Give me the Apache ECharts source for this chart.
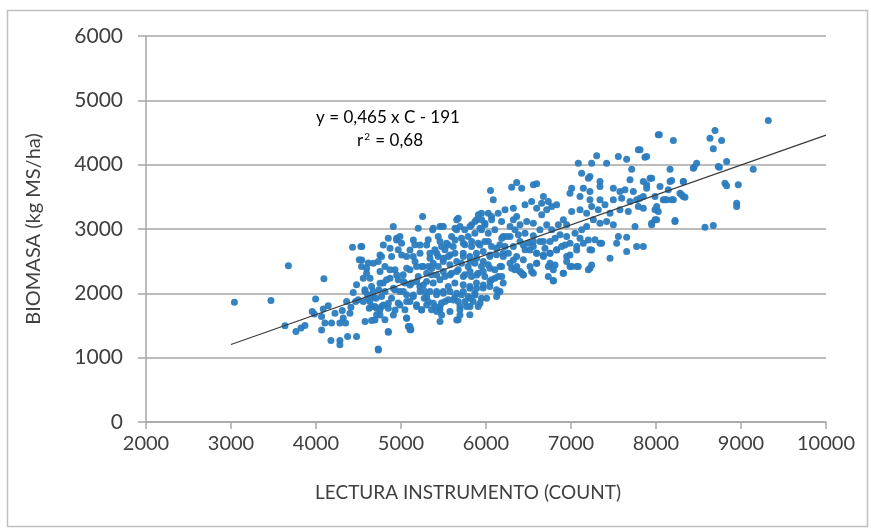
<!DOCTYPE html>
<html>
<head>
<meta charset="utf-8">
<style>
  html, body { margin: 0; padding: 0; background: #ffffff; }
  #chart { width: 871px; height: 529px; }
</style>
<script src="https://cdn.jsdelivr.net/npm/echarts@6/dist/echarts.min.js"></script>
</head>
<body>
<div id="chart"></div>
<script>
// Axis ticks
const xTicks = [2000, 3000, 4000, 5000, 6000, 7000, 8000, 9000, 10000];
const yTicks = [0, 1000, 2000, 3000, 4000, 5000, 6000];

// Fitted line: y = 0,465 x C - 191 (drawn over C = 3000 .. 10000)
const slope = 0.465;
const intercept = -191;
const fitRange = [3000, 10000];
const r2 = 0.68;

// Observations: [instrument reading (count), biomass (kg MS/ha)]
const obsLow = [
  [3040,1860],[3470,1890],[3675,2430],[3635,1495],
  [3764,1407],[3823,1460],[3870,1500],[3956,1718],[3995,1910],[3980,1680],
  [4066,1640],[4085,1755],[4093,2226],[4105,1537],[4066,1430],
  [4176,1268],[4281,1268],[4281,1200],[4183,1537],[4309,1733],[4320,1615],
  [4281,1537],[4348,1537],[4372,1330],[4411,1785],[4466,1873],[4497,1900],
  [4430,2718],[4477,1330],[4360,1873],[4438,2013],[4477,2133],[4509,2521],
  [4399,1692],[4223,1692],[4144,1806]
];

const obsMidA = [
  [4528,2728],[4536,2417],[4556,2236],[4595,2314],[4615,2470],[4575,2055],
  [4607,1977],[4634,1873],[4654,2107],[4673,1951],[4693,1796],[4713,1666],
  [4654,1578],[4732,1133],[4752,1744],[4771,1951],[4740,2055],[4791,2159],
  [4830,2210],[4850,1407],[4811,1589],[4850,2858],[4870,2366],[4771,2573],
  [4732,2495],[4811,2417],[4889,2573],[4909,3039],[4771,1796],[4705,1925],
  [4673,2029],[4850,1770],[4889,1925],[4626,1770],
  [4948,2858],[4967,2676],[5007,2780],[5066,2573],[4929,2366],[4967,2210],
  [5026,2288],[5046,2159],[4987,2029],[5066,1977],[5105,1873],[5046,1744],
  [5066,1615],[5116,1433],[5105,1485],[5163,2754],[5144,2573],[5183,2417],
  [5203,2262],[5222,2107],[5144,1951],[5183,1822],[5242,1744],[5254,3194],
  [5203,3013],[5105,2366],[5261,2417],[5281,2029],[5273,1925],[4967,1848],
  [5124,2159],[4929,2055],
  [4538,2727],[4538,2520],[4596,2390],[4636,2235],[4577,2027],[4616,1924],
  [4557,1872],[4655,1794],[4714,1768],[4753,1665],[4694,1587],[4577,1561],
  [4792,1820],[4851,1395],[4734,1121],[5106,1432],[5086,1483],[5067,1613],
  [4910,1665],[4930,1742],[4851,1846],[4988,1820],[5067,1872],[5184,1794],
  [5243,1742],[5302,1820],[4753,2157],[4871,2235],[4949,2286],[5028,2183],
  [5106,2131],[5184,2183],[5263,2131],[4753,2338],[4675,2468],[4753,2597],
  [4871,2701],[4949,2830],[4792,2753],[5008,2597],[5106,2675],[5165,2494],
  [5067,2390],[5243,2416],[5224,2753],[5224,2623],[4988,2882],[5145,2830],
  [5302,2312],[5302,2753],[5302,1950],[5224,2027],[5145,1976],[5028,2027],
  [4910,2079],[4812,2027]
];

const obsMidB = [
  [5379,3013],[5477,3039],[5438,2884],[5320,2832],[5340,2625],[5399,2676],
  [5477,2728],[5536,2780],[5595,2884],[5654,2987],[5673,3168],[5320,2417],
  [5359,2288],[5438,2417],[5497,2495],[5556,2573],[5634,2625],[5301,2184],
  [5379,2159],[5458,2210],[5516,2262],[5595,2314],[5673,2366],[5340,2029],
  [5418,1977],[5497,2029],[5556,2107],[5634,2159],[5320,1873],[5399,1796],
  [5477,1848],[5556,1900],[5634,1951],[5359,1744],[5458,1744],[5673,1873],
  [5516,2676],[5575,2443],[5614,2728],[5438,2573],[5379,2469],
  [5373,2987],[5459,3039],[5498,3039],[5655,3142],[5694,3039],[5635,3013],
  [5380,1846],[5459,1794],[5518,1872],[5616,1898],[5694,1794],[5420,2027],
  [5498,2001],[5576,2027],[5655,2001],[5361,2390],[5420,2286],[5498,2338],
  [5576,2286],[5655,2338],[5341,2545],[5420,2623],[5498,2545],[5576,2597],
  [5655,2494],[5459,2804],[5557,2753],[5635,2830],[5478,1665],[5420,1717],
  [5576,1717],[5655,1587],[5459,1561],[5694,1665],
  [5751,2987],[5712,2858],[5790,2884],[5869,2935],[5947,2987],[6026,2935],
  [6104,2987],[6202,2884],[5751,2754],[5830,2728],[5908,2780],[5986,2806],
  [6065,2728],[6163,2754],[5732,2625],[5810,2573],[5888,2625],[5967,2650],
  [6045,2573],[6124,2599],[6202,2625],[5712,2469],[5790,2417],[5869,2469],
  [5947,2417],[6026,2443],[6104,2366],[6183,2417],[5751,2288],[5830,2262],
  [5908,2314],[5986,2262],[6065,2210],[6143,2262],[6202,2159],[5732,2133],
  [5810,2107],[5888,2159],[5967,2081],[6045,2107],[6124,2055],[5712,1977],
  [5790,1951],[5869,2003],[5947,1925],[6143,2013],[5849,1873],[5693,1744],
  [5771,1796],[5908,1796],[5810,1666],[5673,1589],
  [6053,3598],[6085,3453],[5947,3246],[5889,3142],[5830,3065],[5986,3091],
  [6065,3194],[6143,3246],[6183,3117],[5870,3117],[5910,3220],[5949,3142],
  [5988,3065],[5929,3013],[6027,3246],[6066,3142],[5812,3039],
  [5753,1872],[5812,1924],[5870,1976],[5733,2027],[5812,2079],[5890,2079],
  [5968,2131],[6047,2183],[6106,2235],[5733,2260],[5812,2338],[5890,2286],
  [5968,2338],[6047,2390],[5733,2571],[5812,2494],[5890,2545],[5968,2494],
  [6047,2597],[6125,2701],[5733,2779],[5831,2804],[5929,2753],[6027,2804],
  [5812,1794],[5929,1846],[6007,1924],[6125,1950]
];

const obsHigh = [
  [6165,2029],[6185,2262],[6165,2417],[6204,2573],[6224,2728],[6243,2884],
  [6283,3039],[6322,3142],[6224,3298],[6322,3324],[6361,3194],[6302,3650],
  [6361,3723],[6420,3635],[6557,3687],[6596,3702],[6459,3376],[6537,3428],
  [6596,3324],[6655,3402],[6675,3505],[6733,3428],[6773,3350],[6831,3376],
  [6714,3298],[6655,3220],[6557,3091],[6479,3117],[6400,3065],[6341,2987],
  [6283,2884],[6381,2910],[6459,2935],[6557,2894],[6635,2987],[6714,3065],
  [6773,2987],[6851,3065],[6910,3142],[6949,3065],[6322,2728],[6400,2806],
  [6459,2676],[6361,2573],[6439,2521],[6498,2780],[6557,2728],[6635,2806],
  [6694,2702],[6753,2806],[6812,2858],[6871,2910],[6596,2625],[6675,2573],
  [6753,2625],[6831,2676],[6890,2728],[6283,2469],[6341,2366],[6420,2314],
  [6518,2417],[6596,2469],[6753,2469],[6792,2366],[6733,2262],[6439,2288],
  [6557,2314],[6792,2200],[6910,2314],[6988,2417],[7067,2417],[7223,2391],
  [7204,2366],[6949,2573],[7067,2728],[7145,2780],[6988,2780],[7223,2676],
  [7282,2832],[7361,2780],[7459,2547],[6949,2884],[7047,2935],[7125,2987],
  [7184,3039],[7263,3142],[7341,3091],[7419,3117],[7498,3065],[7557,2884],
  [7655,2650],[7772,2728],[7851,2728],[7753,3039],[7949,3065],[8008,3142],
  [8223,3117],[7008,3272],[7106,3298],[7184,3246],[7243,3350],[7321,3298],
  [7400,3376],[7341,3453],[7223,3453],[7106,3505],[6988,3557],[7008,3635],
  [7145,3635],[7223,3583],[7341,3738],[7341,3661],[7498,3635],[7576,3583],
  [7635,3609],[7694,3428],[7772,3453],[7792,3350],[7674,3272],[7498,3453],
  [7596,3479],[7851,3505],[7890,3635],[7949,3790],[7988,3505],[8008,3350],
  [7988,3298],[8086,3453],[8125,3453],[8204,3453],[8282,3557],[8321,3505],
  [8165,3738],[8145,3609],[8321,3738],[8165,3930],[8047,3661],[7223,3816],
  [7086,4023],[7125,3868],[7204,3790],[7243,4023],[7302,4137],[7419,4023],
  [7557,4127],[7655,4085],[7714,3930],[7792,4230],[7870,4117],[8027,4464],
  [8204,4375],[8439,3946],[8478,4023],[8635,4412],[8694,4531],[8772,4375],
  [8674,4246],[8733,3971],[8831,4049],[8811,3712],[8831,3671],[8968,3687],
  [8949,3402],[8949,3350],[9144,3930],[9321,4686],[8576,3029],[8674,3054],
  [7949,3091],[7537,2780],[7655,2873],[7576,3298],[7459,3246],[7733,3583],
  [7851,3738],[7694,3764],
  [6263,2623],[6322,2520],[6361,2416],[6302,2390],[6400,2338],[6439,2286],
  [6537,2338],[6439,2753],[6518,2675],[6596,2623],[6675,2597],[6753,2623],
  [6831,2675],[6733,2416],[6812,2442],[6792,2193],[6910,2312],[7008,2416],
  [7086,2416],[7243,2442],[7067,2675],[7243,2675],[7106,2856],[7204,2830],
  [7341,2779],[6185,2856],[6557,2804],[6675,2804],[6929,2753],[6988,2597],
  [6949,2494],[6596,2468],
  [7930,3790],[7890,3687],[8184,3754],[8322,3738],[7812,3479],[8106,3453],
  [8184,3453],[8302,3531],[8341,3495],[8027,3272],[7851,3324],[7988,3142],
  [8224,3132],[8447,3961],[8745,3961],[8039,4464],[7812,4230],[7890,4127]
];

const observations = obsLow.concat(obsMidA, obsMidB, obsHigh);
const fitLine = fitRange.map(c => [c, slope * c + intercept]);

const FONT = 'Lato, "Open Sans", sans-serif';
const TEXT = '#404040';
const NOTE = '#2f2f2f';
const chart = echarts.init(document.getElementById('chart'), null, { renderer: 'canvas' });

// Shared rich-text styles for the equation block
const noteRich = {
  b: { fontFamily: FONT, fontSize: 17, color: NOTE },
  s: { fontFamily: FONT, fontSize: 10, color: NOTE, padding: [0, 1, 8, 1] }
};

chart.setOption({
  backgroundColor: '#ffffff',
  animation: false,
  grid: { left: 146, right: 45, top: 36, bottom: 107, containLabel: false },
  xAxis: {
    type: 'value',
    min: xTicks[0],
    max: xTicks[xTicks.length - 1],
    interval: 1000,
    name: 'LECTURA INSTRUMENTO (COUNT)',
    nameLocation: 'middle',
    nameGap: 61,
    nameTextStyle: { fontFamily: FONT, fontSize: 19, color: TEXT, padding: [0, 36, 0, 0] },
    axisLine: { show: true, onZero: false, lineStyle: { color: '#a6a6a6', width: 1.5 } },
    axisTick: { show: true, inside: false, length: 7, lineStyle: { color: '#a6a6a6', width: 1.5 } },
    axisLabel: {
      fontFamily: FONT, fontSize: 20, color: TEXT, margin: 12,
      formatter: v => String(v)
    },
    splitLine: { show: false }
  },
  yAxis: {
    type: 'value',
    min: yTicks[0],
    max: yTicks[yTicks.length - 1],
    interval: 1000,
    name: 'BIOMASA (kg MS/ha)',
    nameLocation: 'middle',
    nameGap: 102,
    nameRotate: 90,
    nameTextStyle: { fontFamily: FONT, fontSize: 20, color: TEXT },
    axisLine: { show: true, lineStyle: { color: '#a6a6a6', width: 1.5 } },
    axisTick: { show: true, inside: false, length: 8, lineStyle: { color: '#a6a6a6', width: 1.5 } },
    axisLabel: {
      fontFamily: FONT, fontSize: 21, color: TEXT, margin: 23,
      formatter: v => String(v)
    },
    splitLine: { show: true, lineStyle: { color: '#a6a6a6', width: 1.5 } }
  },
  graphic: [
    {
      type: 'rect',
      left: 5, top: 8,
      shape: { width: 860, height: 516 },
      style: { fill: 'none', stroke: '#c0c0c0', lineWidth: 1.5 },
      silent: true, z: -1
    },
    {
      type: 'text',
      x: 388, y: 118,
      style: {
        text: '{b|y = ' + String(slope).replace('.', ',') + ' x C - ' + Math.abs(intercept) + '}',
        align: 'center', verticalAlign: 'middle',
        rich: noteRich
      }
    },
    {
      type: 'text',
      x: 390, y: 141,
      style: {
        text: '{b|r}{s|2}{b| = ' + String(r2).replace('.', ',') + '}',
        align: 'center', verticalAlign: 'middle',
        rich: noteRich
      }
    }
  ],
  series: [
    {
      type: 'scatter',
      data: observations,
      symbol: 'circle',
      symbolSize: 7,
      itemStyle: { color: '#2b7cbf', opacity: 0.95 },
      z: 3
    },
    {
      type: 'line',
      data: fitLine,
      showSymbol: false,
      symbol: 'none',
      lineStyle: { color: '#3a3a3a', width: 1.2 },
      z: 4
    }
  ]
});
</script>
</body>
</html>
